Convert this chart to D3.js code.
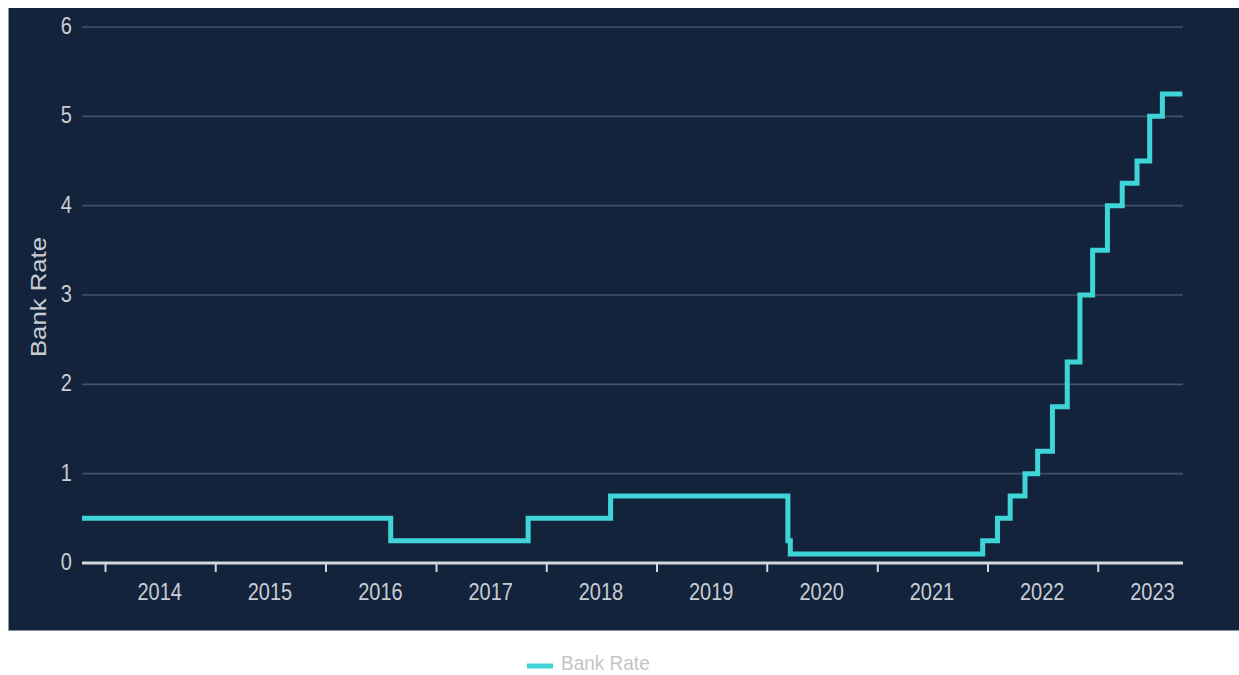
<!DOCTYPE html>
<html>
<head>
<meta charset="utf-8">
<script src="https://cdn.jsdelivr.net/npm/d3@7"></script>
<style>
  html, body { margin: 0; padding: 0; background: #ffffff; }
  svg { display: block; }
  text { font-family: "Liberation Sans", Arial, sans-serif; }
</style>
</head>
<body>
<svg id="chart" width="1239" height="675"></svg>
<script>
// ---- Data ----
const changeDates = ["2013-10-17","2016-08-04","2017-11-02","2018-08-02","2020-03-11","2020-03-19",
  "2021-12-16","2022-02-03","2022-03-17","2022-05-05","2022-06-16","2022-08-04","2022-09-22",
  "2022-11-03","2022-12-15","2023-02-02","2023-03-23","2023-05-11","2023-06-22","2023-08-03"];
const bankRate = [0.5,0.25,0.5,0.75,0.25,0.1,0.25,0.5,0.75,1.0,1.25,1.75,2.25,3.0,3.5,4.0,4.25,4.5,5.0,5.25];
const endDate = "2023-10-08";
const yTicks = [0,1,2,3,4,5,6];
const yearLabels = [2014,2015,2016,2017,2018,2019,2020,2021,2022,2023];
const seriesName = "Bank Rate";
const yTitle = "Bank Rate";

// ---- Layout ----
const svg = d3.select("#chart");
const parse = d3.utcParse("%Y-%m-%d");
const plotL = 82, plotR = 1183, plotT = 27, plotB = 563;
const vScale = 1.17;

const x = d3.scaleUtc()
  .domain([new Date(Date.UTC(2014,0,1)), new Date(Date.UTC(2024,0,1))])
  .range([105, 1208]);
const y = d3.scaleLinear().domain([0, 6]).range([plotB, plotT]);

// panel background
svg.append("rect").attr("x", 8).attr("y", 8).attr("width", 1239 - 8).attr("height", 630 - 8)
  .attr("fill", "#13233c");
svg.append("line").attr("x1", 8.5).attr("x2", 8.5).attr("y1", 8).attr("y2", 630)
  .attr("stroke", "#8c96a3").attr("stroke-width", 1);
svg.append("line").attr("x1", 8).attr("x2", 1239).attr("y1", 630.5).attr("y2", 630.5)
  .attr("stroke", "#8c96a3").attr("stroke-width", 1);

// gridlines
svg.append("g").selectAll("line").data(yTicks.filter(d => d > 0)).join("line")
  .attr("x1", plotL).attr("x2", plotR)
  .attr("y1", d => y(d)).attr("y2", d => y(d))
  .attr("stroke", "#435268").attr("stroke-width", 1.6);

// y tick labels
svg.append("g").selectAll("text").data(yTicks).join("text")
  .attr("transform", d => `translate(72,${y(d) + 7}) scale(1,${vScale})`)
  .attr("text-anchor", "end")
  .attr("font-size", 20)
  .attr("fill", "#c9cdd3")
  .text(d => d);

// y title
svg.append("text")
  .attr("transform", `translate(46,297) rotate(-90) scale(${vScale},1)`)
  .attr("text-anchor", "middle")
  .attr("font-size", 22)
  .attr("fill", "#c9cdd3")
  .text(yTitle);

// x axis (scale-driven ticks)
const xAxis = d3.axisBottom(x)
  .tickValues(yearLabels.map(yr => new Date(Date.UTC(yr,0,1))))
  .tickSize(9)
  .tickFormat("");
const gx = svg.append("g").attr("transform", `translate(0,${plotB})`).call(xAxis);
gx.select(".domain").remove();
gx.selectAll(".tick line").attr("stroke", "#d4d7dc").attr("stroke-width", 2);
svg.append("line").attr("x1", plotL).attr("x2", plotR).attr("y1", plotB).attr("y2", plotB)
  .attr("stroke", "#d4d7dc").attr("stroke-width", 3);

// x year labels centered mid-year
svg.append("g").selectAll("text").data(yearLabels).join("text")
  .attr("transform", d => `translate(${x(new Date(Date.UTC(d,6,1)))},${600}) scale(1,${vScale})`)
  .attr("text-anchor", "middle")
  .attr("font-size", 20)
  .attr("fill", "#c9cdd3")
  .text(d => d);

// step line
const pts = changeDates.map((d, i) => ({date: parse(d), v: bankRate[i]}));
pts.push({date: parse(endDate), v: bankRate[bankRate.length - 1]});
const line = d3.line().x(d => x(d.date)).y(d => y(d.v)).curve(d3.curveStepAfter);
svg.append("path").datum(pts)
  .attr("d", line)
  .attr("fill", "none")
  .attr("stroke", "#3fd5d8")
  .attr("stroke-width", 5)
  .attr("stroke-linejoin", "miter");

// legend
svg.append("line").attr("x1", 527).attr("x2", 553).attr("y1", 666).attr("y2", 666)
  .attr("stroke", "#3fd5d8").attr("stroke-width", 5);
svg.append("text")
  .attr("transform", `translate(561,670) scale(1,1.1)`)
  .attr("font-size", 19)
  .attr("fill", "#c2c5c9")
  .text(seriesName);
</script>
</body>
</html>
